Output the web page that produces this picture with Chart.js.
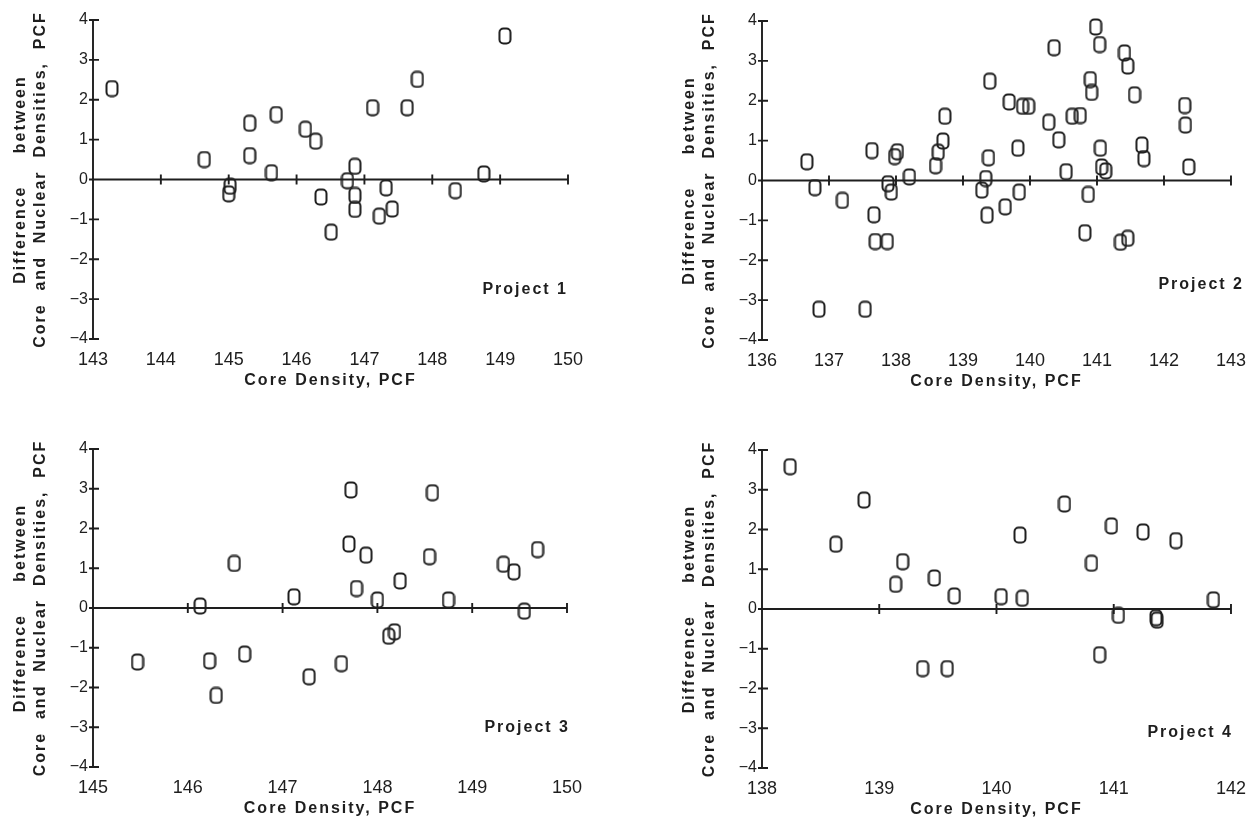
<!DOCTYPE html>
<html>
<head>
<meta charset="utf-8">
<title>Core vs Nuclear Densities</title>
<script src="https://cdn.jsdelivr.net/npm/chart.js@4.4.0/dist/chart.umd.min.js"></script>
<style>
    html, body { margin: 0; padding: 0; background: #fff; width: 1256px; height: 823px; overflow: hidden; }
    canvas { position: absolute; }
</style>
</head>
<body>
<canvas id="p1"></canvas>
<canvas id="p2"></canvas>
<canvas id="p3"></canvas>
<canvas id="p4"></canvas>
<script>
// Project 1
const p1XTicks = [143, 144, 145, 146, 147, 148, 149, 150];
const p1Core = [143.28, 144.64, 145.02, 145.00, 145.31, 145.31, 145.63, 145.70, 146.13, 146.28, 146.36, 146.51, 146.75,
    146.86, 146.86, 146.86, 147.12, 147.22, 147.32, 147.41, 147.63, 147.78, 148.34, 148.76, 149.07];
const p1Diff = [2.28, 0.50, -0.17, -0.36, 1.41, 0.60, 0.17, 1.63, 1.26, 0.96, -0.44, -1.32, -0.03,
    0.33, -0.40, -0.75, 1.80, -0.92, -0.21, -0.74, 1.80, 2.51, -0.28, 0.14, 3.60];

// Project 2
const p2XTicks = [136, 137, 138, 139, 140, 141, 142, 143];
const p2Core = [136.67, 136.79, 136.85, 137.20, 137.54, 137.64, 137.67, 137.69, 137.87, 137.88, 137.93, 137.98, 138.02,
    138.20, 138.59, 138.63, 138.70, 138.73, 139.28, 139.34, 139.36, 139.38, 139.40, 139.63, 139.69, 139.82, 139.84,
    139.89, 139.98, 140.28, 140.36, 140.43, 140.54, 140.63, 140.75, 140.82, 140.87, 140.90, 140.92, 140.98, 141.04,
    141.05, 141.07, 141.13, 141.35, 141.46, 141.41, 141.46, 141.56, 141.67, 141.70, 142.31, 142.32, 142.37];
const p2Diff = [0.47, -0.18, -3.23, -0.50, -3.23, 0.75, -0.86, -1.53, -1.53, -0.08, -0.29, 0.60, 0.72,
    0.09, 0.37, 0.71, 0.99, 1.61, -0.24, 0.05, -0.87, 0.57, 2.49, -0.66, 1.97, 0.81, -0.29,
    1.86, 1.86, 1.46, 3.33, 1.02, 0.22, 1.61, 1.63, -1.31, -0.35, 2.53, 2.21, 3.85, 3.41,
    0.81, 0.34, 0.24, -1.55, -1.45, 3.20, 2.87, 2.15, 0.89, 0.55, 1.88, 1.39, 0.34];

// Project 3
const p3XTicks = [145, 146, 147, 148, 149, 150];
const p3Core = [145.47, 146.13, 146.23, 146.30, 146.49, 146.60, 147.12, 147.28, 147.62, 147.70, 147.72, 147.78,
    147.88, 148.00, 148.12, 148.18, 148.24, 148.55, 148.58, 148.75, 149.33, 149.44, 149.55, 149.69];
const p3Diff = [-1.36, 0.05, -1.33, -2.20, 1.12, -1.16, 0.28, -1.73, -1.40, 1.61, 2.97, 0.49,
    1.33, 0.20, -0.71, -0.60, 0.68, 1.29, 2.90, 0.20, 1.10, 0.91, -0.08, 1.47];

// Project 4
const p4XTicks = [138, 139, 140, 141, 142];
const p4Core = [138.24, 138.63, 138.87, 139.14, 139.20, 139.37, 139.47, 139.58, 139.64, 140.04, 140.22,
    140.20, 140.58, 140.81, 140.88, 140.98, 141.04, 141.25, 141.37, 141.36, 141.53, 141.85];
const p4Diff = [3.58, 1.63, 2.74, 0.62, 1.19, -1.50, 0.78, -1.50, 0.33, 0.31, 0.27,
    1.86, 2.64, 1.15, -1.15, 2.09, -0.16, 1.94, -0.28, -0.22, 1.72, 0.23];

const yTicks = [-4, -3, -2, -1, 0, 1, 2, 3, 4];
const projectNames = ['Project 1', 'Project 2', 'Project 3', 'Project 4'];
const xTitle = 'Core Density, PCF';
const yTitle = ['Difference     between', 'Core  and  Nuclear  Densities,  PCF'];

const ink = '#1e1e1e';
const fontFamily = '"Liberation Sans", Arial, sans-serif';

// where each panel sits on the page
const boxes = [
    { left: 0,   top: 0,   w: 628, h: 399, padTop: 20, padRight: 60, labelY: -2.75, labelDx: 0 },
    { left: 669, top: 0,   w: 587, h: 400, padTop: 21, padRight: 22, labelY: -2.6,  labelDx: 13 },
    { left: 0,   top: 420, w: 628, h: 407, padTop: 29, padRight: 61, labelY: -3.0,  labelDx: 3 },
    { left: 669, top: 420, w: 587, h: 408, padTop: 30, padRight: 23, labelY: -3.1,  labelDx: 2 }
];

// "0" shaped marker
function makeMarker() {
    const c = document.createElement('canvas');
    c.width = 14;
    c.height = 18;
    const g = c.getContext('2d');
    g.strokeStyle = ink;
    g.lineWidth = 2;
    g.beginPath();
    g.roundRect(1.5, 1.5, 11, 15, 4);
    g.stroke();
    return c;
}
const marker = makeMarker();

// axes through zero, crossing ticks, titles and project label
const panelDeco = {
    id: 'panelDeco',
    beforeDatasetsDraw(chart, args, opts) {
        const { ctx, chartArea: a, scales: { x, y } } = chart;
        const y0 = y.getPixelForValue(0);
        ctx.save();
        ctx.strokeStyle = ink;
        ctx.lineWidth = 1.9;
        ctx.beginPath();
        ctx.moveTo(a.left, y.getPixelForValue(y.max));
        ctx.lineTo(a.left, y.getPixelForValue(y.min));
        ctx.moveTo(a.left, y0);
        ctx.lineTo(x.getPixelForValue(x.max), y0);
        y.ticks.forEach(t => {
            const py = y.getPixelForValue(t.value);
            ctx.moveTo(a.left - 4, py);
            ctx.lineTo(a.left + 6, py);
        });
        x.ticks.forEach(t => {
            if (t.value === x.min) return;
            const px = x.getPixelForValue(t.value);
            ctx.moveTo(px, y0 - 5);
            ctx.lineTo(px, y0 + 5);
        });
        ctx.stroke();
        ctx.restore();
    },
    afterDatasetsDraw(chart, args, opts) {
        const { ctx, chartArea: a, scales: { y } } = chart;
        ctx.save();
        ctx.fillStyle = ink;
        ctx.font = 'bold 16px ' + fontFamily;
        ctx.letterSpacing = '2px';
        ctx.textBaseline = 'middle';

        // x title
        ctx.textAlign = 'center';
        ctx.fillText(xTitle, (a.left + a.right) / 2, a.bottom + 42);

        // y title, two rotated lines
        ctx.save();
        ctx.translate(0, (a.top + a.bottom) / 2);
        ctx.rotate(-Math.PI / 2);
        ctx.fillText(yTitle[0], 0, 21);
        ctx.fillText(yTitle[1], 0, 41);
        ctx.restore();

        // project label
        ctx.textAlign = 'right';
        ctx.fillText(opts.name, a.right + opts.dx, y.getPixelForValue(opts.labelY));
        ctx.restore();
    }
};

function drawPanel(id, xTicks, core, diff, idx) {
    const box = boxes[idx];
    const canvas = document.getElementById(id);
    canvas.width = box.w;
    canvas.height = box.h;
    canvas.style.left = box.left + 'px';
    canvas.style.top = box.top + 'px';

    const points = core.map((v, i) => ({ x: v, y: diff[i] }));

    new Chart(canvas, {
        type: 'scatter',
        data: {
            datasets: [{
                data: points,
                pointStyle: marker,
                pointRadius: 7,
                pointHoverRadius: 7
            }]
        },
        options: {
            responsive: false,
            animation: false,
            events: [],
            clip: false,
            layout: { padding: { top: box.padTop, right: box.padRight, left: 0, bottom: 0 } },
            plugins: {
                legend: { display: false },
                tooltip: { enabled: false },
                panelDeco: { name: projectNames[idx], labelY: box.labelY, dx: box.labelDx }
            },
            scales: {
                x: {
                    type: 'linear',
                    min: xTicks[0],
                    max: xTicks[xTicks.length - 1],
                    afterBuildTicks: s => { s.ticks = xTicks.map(v => ({ value: v })); },
                    afterFit: s => { s.height = 60; },
                    grid: { display: false, drawTicks: false },
                    border: { display: false },
                    ticks: {
                        color: ink,
                        padding: 10,
                        maxRotation: 0,
                        autoSkip: false,
                        font: { family: fontFamily, size: 18 }
                    }
                },
                y: {
                    min: yTicks[0],
                    max: yTicks[yTicks.length - 1],
                    afterBuildTicks: s => { s.ticks = yTicks.map(v => ({ value: v })); },
                    afterFit: s => { s.width = 93; },
                    grid: { display: false, drawTicks: false },
                    border: { display: false },
                    ticks: {
                        color: ink,
                        padding: 5,
                        font: { family: fontFamily, size: 16 },
                        callback: v => v < 0 ? '\u2212' + Math.abs(v) : String(v)
                    }
                }
            }
        },
        plugins: [panelDeco]
    });
}

drawPanel('p1', p1XTicks, p1Core, p1Diff, 0);
drawPanel('p2', p2XTicks, p2Core, p2Diff, 1);
drawPanel('p3', p3XTicks, p3Core, p3Diff, 2);
drawPanel('p4', p4XTicks, p4Core, p4Diff, 3);
</script>
</body>
</html>
